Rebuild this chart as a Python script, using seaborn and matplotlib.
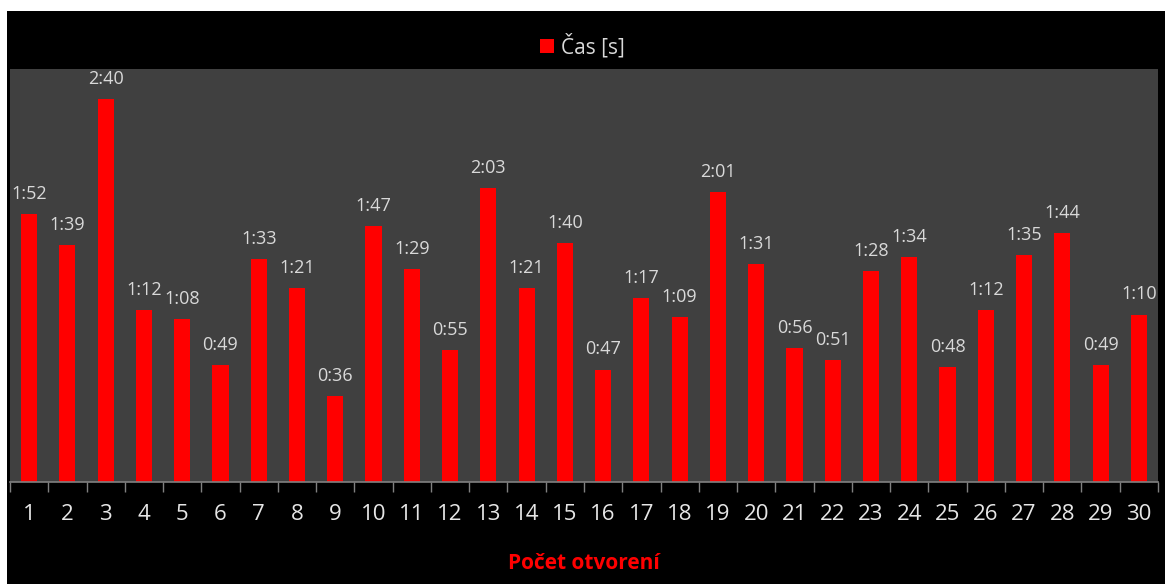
import pandas as pd
import matplotlib.pyplot as plt
import seaborn as sns
from matplotlib.patches import Rectangle, Patch

# Data: time per opening (seconds)
openings = list(range(1, 31))
seconds = [112, 99, 160, 72, 68, 49, 93, 81, 36, 107,
           89, 55, 123, 81, 100, 47, 77, 69, 121, 91,
           56, 51, 88, 94, 48, 72, 95, 104, 49, 70]
labels = [f"{s // 60}:{s % 60:02d}" for s in seconds]

df = pd.DataFrame({'otvorenie': [str(o) for o in openings], 'cas': seconds})

sns.set_style('dark')
plt.rcParams['font.family'] = ['Open Sans', 'DejaVu Sans']

fig = plt.figure(figsize=(11.65, 5.84), dpi=100, facecolor='white')
# black chart area with thin white margin at top/left
fig.patches.append(Rectangle((7 / 1165, 0), 1 - 7 / 1165, 1 - 11 / 584,
                             transform=fig.transFigure, facecolor='black',
                             edgecolor='none', zorder=-10))

ax = fig.add_axes([10 / 1165, 102 / 584, 1148 / 1165, 413 / 584])
ax.set_facecolor('#404040')
sns.barplot(data=df, x='otvorenie', y='cas', color='#ff0000', width=0.42,
            saturation=1, ax=ax, order=[str(o) for o in openings],
            edgecolor='none', linewidth=0)

ax.bar_label(ax.containers[0], labels=labels, padding=8,
             color='#d9d9d9', fontsize=13)

ax.set_xlim(-0.5, 29.5)
ax.set_ylim(0, 172.6)
ax.set_yticks([])
ax.set_ylabel('')
ax.grid(False)

for side in ['top', 'left', 'right']:
    ax.spines[side].set_visible(False)
ax.spines['bottom'].set_color('#808080')
ax.spines['bottom'].set_linewidth(1.2)

ax.set_xticks([i - 0.5 for i in range(31)], minor=True)
ax.tick_params(axis='x', which='minor', length=7, color='#808080', width=1, bottom=True)
ax.tick_params(axis='x', which='major', length=0, pad=16, labelsize=16, labelcolor='#e6e6e6')

ax.set_xlabel('Počet otvorení', color='#ff0000', fontsize=15, fontweight='bold', labelpad=20)

fig.legend(handles=[Patch(facecolor='#ff0000', edgecolor='none', label='Čas [s]')],
           loc='center', bbox_to_anchor=(0.5, 1 - 46 / 584), frameon=False,
           fontsize=15, labelcolor='#d9d9d9', handlelength=0.65, handleheight=0.65,
           handletextpad=0.35)

fig.savefig('out.png', dpi=100, facecolor='white')
